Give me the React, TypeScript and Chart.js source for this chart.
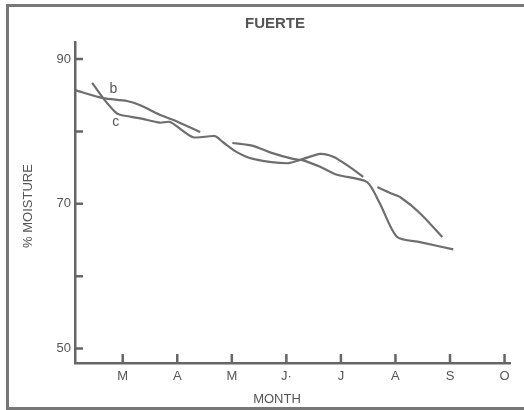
import React, { useEffect, useRef } from 'react';
import { Chart, registerables } from 'chart.js';

Chart.register(...registerables);

// Month axis: 3 = March ... 10 = October
const monthTicks = [3, 4, 5, 6, 7, 8, 9, 10];
const monthLabels = ['M', 'A', 'M', 'J·', 'J', 'A', 'S', 'O'];
const moistureTicks = [50, 60, 70, 80, 90];
const moistureLabels = ['50', '', '70', '', '90'];

// Series b (gap between the first and second segments)
const bMonth = [2.125, 2.64, 3.08, 3.32, 3.68, 3.92, 4.42, 4.7, 5.01, 5.39, 5.7, 6.12, 6.31, 6.62, 6.93, 7.48, 7.71, 8.03, 8.45, 9.06];
const bMoisture = [85.7, 84.6, 84.2, 83.6, 82.3, 81.6, 79.9, null, 78.4, 78.0, 77.1, 76.2, 76.0, 75.1, 74.0, 73.0, 70.1, 65.4, 64.7, 63.7];

// Series c (gap near late July)
const cMonth = [2.44, 2.64, 2.86, 2.95, 3.32, 3.68, 3.87, 4.29, 4.69, 4.84, 5.1, 5.39, 6.01, 6.31, 6.62, 6.86, 7.12, 7.41, 7.55, 7.67, 7.9, 8.09, 8.45, 8.86];
const cMoisture = [86.7, 84.6, 82.7, 82.3, 81.8, 81.2, 81.3, 79.2, 79.35, 78.5, 77.1, 76.2, 75.6, 76.2, 76.9, 76.5, 75.3, 73.7, null, 72.3, 71.5, 70.9, 68.7, 65.4];

// Curve labels (data coordinates)
const curveLabels = ['b', 'c'];
const curveLabelMonth = [2.83, 2.87];
const curveLabelMoisture = [85.85, 81.3];

const FONT = '"Liberation Sans", Arial, Helvetica, sans-serif';
const INK = '#555555';
const LINE = '#6e6e6e';

export default function App() {
  const ref = useRef<HTMLCanvasElement>(null);

  useEffect(() => {
    const canvas = ref.current;
    if (!canvas) return;

    const decor = {
      id: 'decor',
      afterDraw(chart: any) {
        const { ctx, chartArea, scales } = chart;
        const xs = scales.x;
        const ys = scales.y;
        ctx.save();
        // inward tick marks
        ctx.strokeStyle = '#666666';
        ctx.lineWidth = 2.5;
        ctx.beginPath();
        moistureTicks.forEach((v) => {
          const py = ys.getPixelForValue(v);
          ctx.moveTo(chartArea.left, py);
          ctx.lineTo(chartArea.left + 8, py);
        });
        monthTicks.forEach((v) => {
          const px = xs.getPixelForValue(v);
          ctx.moveTo(px, chartArea.bottom);
          ctx.lineTo(px, chartArea.bottom - 9);
        });
        ctx.stroke();

        // frame (left, top, bottom; right side runs off the picture)
        ctx.strokeStyle = '#777777';
        ctx.lineWidth = 3;
        ctx.beginPath();
        ctx.moveTo(530, 5.5);
        ctx.lineTo(7.5, 5.5);
        ctx.lineTo(7.5, 408.5);
        ctx.lineTo(530, 408.5);
        ctx.stroke();

        // texts
        ctx.fillStyle = INK;
        ctx.textAlign = 'center';
        ctx.textBaseline = 'middle';
        ctx.font = `bold 15px ${FONT}`;
        ctx.fillText('FUERTE', 275, 24);
        ctx.font = `13px ${FONT}`;
        ctx.fillText('MONTH', 277, 399);
        ctx.save();
        ctx.translate(28, 206);
        ctx.rotate(-Math.PI / 2);
        ctx.fillText('% MOISTURE', 0, 0);
        ctx.restore();

        ctx.font = `14px ${FONT}`;
        curveLabels.forEach((t, i) => {
          ctx.fillText(t, xs.getPixelForValue(curveLabelMonth[i]), ys.getPixelForValue(curveLabelMoisture[i]));
        });
        ctx.restore();
      },
    };

    const toPoints = (xsArr: number[], ysArr: (number | null)[]) =>
      xsArr.map((x, i) => ({ x, y: ysArr[i] }));

    const chart = new Chart(canvas, {
      type: 'line',
      data: {
        datasets: [
          {
            label: 'b',
            data: toPoints(bMonth, bMoisture) as any,
            borderColor: LINE,
            borderWidth: 2.2,
            pointRadius: 0,
            tension: 0.25,
            spanGaps: false,
            fill: false,
          },
          {
            label: 'c',
            data: toPoints(cMonth, cMoisture) as any,
            borderColor: LINE,
            borderWidth: 2.2,
            pointRadius: 0,
            tension: 0.25,
            spanGaps: false,
            fill: false,
          },
        ],
      },
      options: {
        responsive: false,
        animation: false,
        devicePixelRatio: 1,
        layout: { padding: { top: 42, right: 14, left: 0, bottom: 0 } },
        plugins: {
          legend: { display: false },
          title: { display: false },
          tooltip: { enabled: false },
        },
        scales: {
          x: {
            type: 'linear',
            min: 2.125,
            max: 10.1,
            afterFit: (s: any) => {
              s.height = 47;
            },
            afterBuildTicks: (axis: any) => {
              axis.ticks = monthTicks.map((v) => ({ value: v }));
            },
            grid: { display: false, drawTicks: false },
            border: { display: true, color: '#666666', width: 2.5 },
            ticks: {
              autoSkip: false,
              maxRotation: 0,
              padding: 6,
              color: INK,
              font: { family: FONT, size: 13 },
              callback: (_v: any, i: number) => monthLabels[i],
            },
          },
          y: {
            type: 'linear',
            min: 48,
            max: 92.35,
            afterFit: (s: any) => {
              s.width = 75;
            },
            afterBuildTicks: (axis: any) => {
              axis.ticks = moistureTicks.map((v) => ({ value: v }));
            },
            grid: { display: false, drawTicks: false },
            border: { display: true, color: '#666666', width: 2.5 },
            ticks: {
              autoSkip: false,
              padding: 4,
              color: INK,
              font: { family: FONT, size: 13 },
              callback: (_v: any, i: number) => moistureLabels[i],
            },
          },
        },
      },
      plugins: [decor],
    });

    return () => chart.destroy();
  }, []);

  return (
    <div style={{ position: 'fixed', left: 0, top: 0, width: 524, height: 410, background: '#ffffff' }}>
      <canvas ref={ref} width={524} height={410} style={{ display: 'block', width: 524, height: 410 }} />
    </div>
  );
}
